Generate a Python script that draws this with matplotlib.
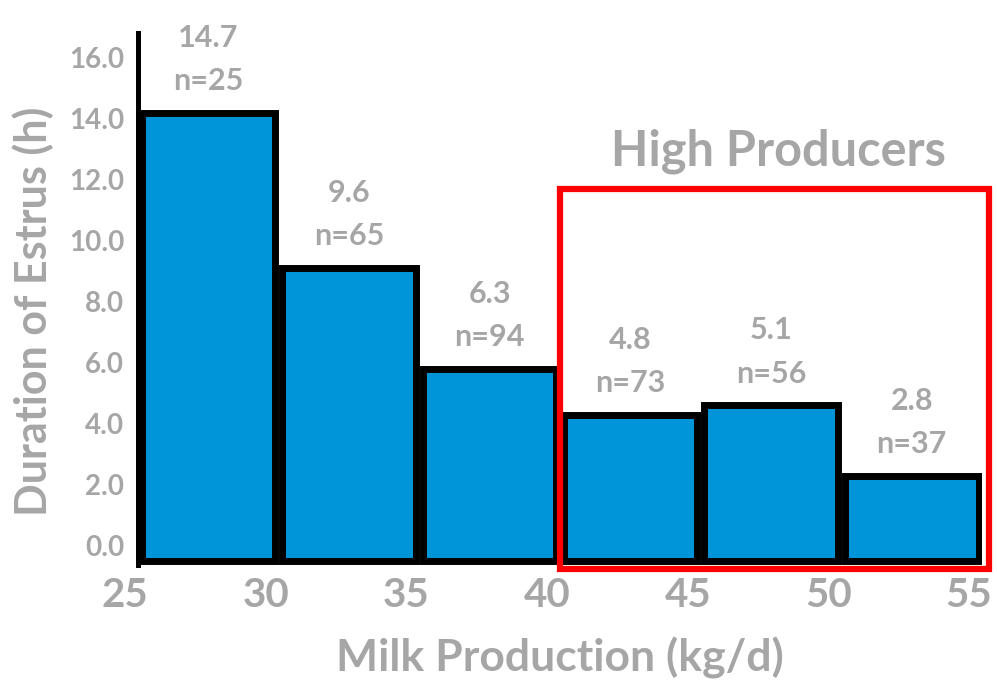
import matplotlib.pyplot as plt
from matplotlib.patches import Rectangle
from matplotlib.transforms import ScaledTranslation

plt.rcParams['font.family'] = ['Lato', 'DejaVu Sans']
plt.rcParams['font.weight'] = 'bold'
plt.rcParams['axes.labelweight'] = 'bold'

# duration of estrus per milk production class
bin_starts = [25, 30, 35, 40, 45, 50]
durations = [14.7, 9.6, 6.3, 4.8, 5.1, 2.8]
counts = [25, 65, 94, 73, 56, 37]
x_ticks = [25, 30, 35, 40, 45, 50, 55]
y_ticks = [0, 2, 4, 6, 8, 10, 12, 14, 16]

grey = '#A6A6A6'
blue = '#0094D9'

fig = plt.figure(figsize=(9.97, 6.89), dpi=100)
ax = fig.add_axes([0.1384, 0.18, 0.8466, 0.772])

centers = [s + 2.5 for s in bin_starts]
ax.bar(centers, durations, width=4.75, color=blue, edgecolor='black',
       linewidth=5, joinstyle='miter', zorder=3)

for c, d, n in zip(centers, durations, counts):
    ax.annotate(f'n={n}', (c, d), xytext=(0, 23), textcoords='offset points',
                ha='center', va='center', color=grey, fontsize=22)
    ax.annotate(f'{d:.1f}', (c, d), xytext=(0, 54), textcoords='offset points',
                ha='center', va='center', color=grey, fontsize=22)

ax.set_xlim(25, 55)
ax.set_ylim(-0.13, 17.31)

ax.set_xticks(x_ticks)
ax.set_yticks(y_ticks)
ax.set_yticklabels([f'{v:.1f}' for v in y_ticks])
ax.tick_params(axis='x', length=0, pad=9, labelsize=29, labelcolor=grey)
ax.tick_params(axis='y', length=0, pad=10, labelsize=20, labelcolor=grey)

# nudge tick labels: y ones up, x ones a little left
shift_y = ScaledTranslation(0, 16 / 100, fig.dpi_scale_trans)
for lab in ax.get_yticklabels():
    lab.set_transform(lab.get_transform() + shift_y)
shift_x = ScaledTranslation(-13 / 100, 0, fig.dpi_scale_trans)
for lab in ax.get_xticklabels():
    lab.set_transform(lab.get_transform() + shift_x)

for side in ['top', 'right', 'bottom']:
    ax.spines[side].set_visible(False)
ax.spines['left'].set_linewidth(3.6)
ax.spines['left'].set_color('black')
ax.spines['left'].set_zorder(4)

ax.set_xlabel('Milk Production (kg/d)', fontsize=32, color=grey, labelpad=16)
ax.set_ylabel('Duration of Estrus (h)', fontsize=31, color=grey)
ax.yaxis.set_label_coords(-0.1, 0.476)

# box around the high producing groups
box = Rectangle((40, -0.26), 15.25, 12.46, fill=False, edgecolor='#FF0000',
                linewidth=4.5, joinstyle='miter', clip_on=False, zorder=5)
ax.add_patch(box)
ax.text(47.75, 13.45, 'High Producers', ha='center', va='center',
        fontsize=35, color=grey)

fig.savefig('out.png', dpi=100)
